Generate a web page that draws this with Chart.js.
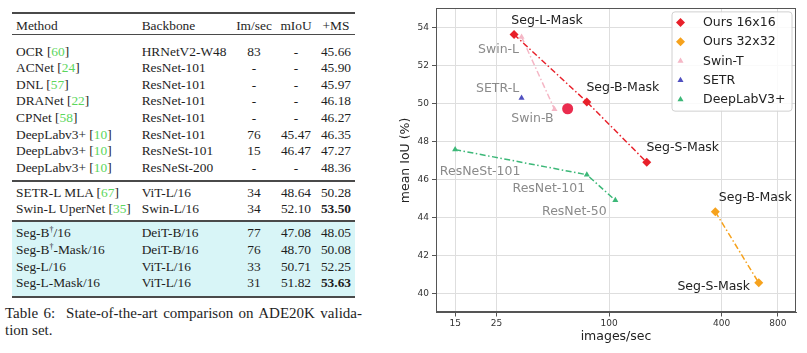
<!DOCTYPE html>
<html>
<head>
<meta charset="utf-8">
<script src="https://cdn.jsdelivr.net/npm/chart.js@4"></script>
<style>
  html, body { margin: 0; padding: 0; background: #fff; }
  body { width: 807px; height: 353px; position: relative; overflow: hidden; }
  .tbl { position: absolute; left: 0; top: 0; width: 365px; height: 353px;
         font-family: "Liberation Serif", "Times New Roman", serif; font-size: 13.4px; color: #1e1e1e; }
  .rule { position: absolute; left: 12px; width: 343px; background: #4a4a4a; }
  .hl { position: absolute; left: 12px; width: 343px; top: 221px; height: 76px; background: #d8f5f7; }
  .row { position: absolute; left: 0; width: 365px; height: 16px; line-height: 16px; white-space: nowrap; }
  .row span { position: absolute; top: 0; }
  .c1 { left: 16px; }
  .c2 { left: 141.7px; }
  .c3 { left: 234px; width: 40px; text-align: center; }
  .c4 { left: 276px; width: 40px; text-align: center; }
  .c5 { left: 316px; width: 40px; text-align: center; }
  .g { color: #5cd65c; }
  b { font-weight: bold; }
  sup { font-size: 8px; line-height: 0; vertical-align: 5px; }
  .cap { position: absolute; left: 5px; width: 357px; font-size: 15px; line-height: 17px; }
  .cap1 { text-align: justify; text-align-last: justify; }
  #chartWrap { position: absolute; left: 370px; top: 0; width: 437px; height: 353px; }
</style>
</head>
<body>
<div class="tbl">
  <div class="hl"></div>
  <div class="rule" style="top:12px;height:2px"></div>
  <div class="row" style="top:18px"><span class="c1">Method</span><span class="c2">Backbone</span><span class="c3">Im/sec</span><span class="c4">mIoU</span><span class="c5">+MS</span></div>
  <div class="rule" style="top:34px;height:1px"></div>
  <div class="row" style="top:43.7px"><span class="c1">OCR [<span class="g" style="position:static">60</span>]</span><span class="c2">HRNetV2-W48</span><span class="c3">83</span><span class="c4">-</span><span class="c5">45.66</span></div>
  <div class="row" style="top:60.3px"><span class="c1">ACNet [<span class="g" style="position:static">24</span>]</span><span class="c2">ResNet-101</span><span class="c3">-</span><span class="c4">-</span><span class="c5">45.90</span></div>
  <div class="row" style="top:77px"><span class="c1">DNL [<span class="g" style="position:static">57</span>]</span><span class="c2">ResNet-101</span><span class="c3">-</span><span class="c4">-</span><span class="c5">45.97</span></div>
  <div class="row" style="top:93.3px"><span class="c1">DRANet [<span class="g" style="position:static">22</span>]</span><span class="c2">ResNet-101</span><span class="c3">-</span><span class="c4">-</span><span class="c5">46.18</span></div>
  <div class="row" style="top:110px"><span class="c1">CPNet [<span class="g" style="position:static">58</span>]</span><span class="c2">ResNet-101</span><span class="c3">-</span><span class="c4">-</span><span class="c5">46.27</span></div>
  <div class="row" style="top:126.5px"><span class="c1">DeepLabv3+ [<span class="g" style="position:static">10</span>]</span><span class="c2">ResNet-101</span><span class="c3">76</span><span class="c4">45.47</span><span class="c5">46.35</span></div>
  <div class="row" style="top:143px"><span class="c1">DeepLabv3+ [<span class="g" style="position:static">10</span>]</span><span class="c2">ResNeSt-101</span><span class="c3">15</span><span class="c4">46.47</span><span class="c5">47.27</span></div>
  <div class="row" style="top:159.7px"><span class="c1">DeepLabv3+ [<span class="g" style="position:static">10</span>]</span><span class="c2">ResNeSt-200</span><span class="c3">-</span><span class="c4">-</span><span class="c5">48.36</span></div>
  <div class="rule" style="top:180px;height:1.5px"></div>
  <div class="row" style="top:184.7px"><span class="c1">SETR-L MLA [<span class="g" style="position:static">67</span>]</span><span class="c2">ViT-L/16</span><span class="c3">34</span><span class="c4">48.64</span><span class="c5">50.28</span></div>
  <div class="row" style="top:201.3px"><span class="c1">Swin-L UperNet [<span class="g" style="position:static">35</span>]</span><span class="c2">Swin-L/16</span><span class="c3">34</span><span class="c4">52.10</span><span class="c5"><b>53.50</b></span></div>
  <div class="rule" style="top:220px;height:1.5px"></div>
  <div class="row" style="top:225.3px"><span class="c1">Seg-B<sup>†</sup>/16</span><span class="c2">DeiT-B/16</span><span class="c3">77</span><span class="c4">47.08</span><span class="c5">48.05</span></div>
  <div class="row" style="top:242px"><span class="c1">Seg-B<sup>†</sup>-Mask/16</span><span class="c2">DeiT-B/16</span><span class="c3">76</span><span class="c4">48.70</span><span class="c5">50.08</span></div>
  <div class="row" style="top:258.7px"><span class="c1">Seg-L/16</span><span class="c2">ViT-L/16</span><span class="c3">33</span><span class="c4">50.71</span><span class="c5">52.25</span></div>
  <div class="row" style="top:275.3px"><span class="c1">Seg-L-Mask/16</span><span class="c2">ViT-L/16</span><span class="c3">31</span><span class="c4">51.82</span><span class="c5"><b>53.63</b></span></div>
  <div class="rule" style="top:296px;height:2px"></div>
  <div class="cap cap1" style="top:305px">Table 6:&nbsp; State-of-the-art comparison on ADE20K valida-</div>
  <div class="cap" style="top:321.5px">tion set.</div>
</div>

<div id="chartWrap"><canvas id="speedChart" width="437" height="353"></canvas></div>

<script>
// Speed vs accuracy on ADE20K

const xTicks = [15, 25, 100, 400, 800];
const yTicks = [40, 42, 44, 46, 48, 50, 52, 54];

const ours16Names = ['Seg-L-Mask', 'Seg-B-Mask', 'Seg-S-Mask'];
const ours16Fps = [31, 76, 159];
const ours16Miou = [53.63, 50.08, 46.9];

const ours32Names = ['Seg-B-Mask', 'Seg-S-Mask'];
const ours32Fps = [370, 632];
const ours32Miou = [44.3, 40.56];

const swinNames = ['Swin-L', 'Swin-B'];
const swinFps = [34, 51];
const swinMiou = [53.5, 49.7];

const setrNames = ['SETR-L'];
const setrFps = [34];
const setrMiou = [50.28];

const deeplabNames = ['ResNeSt-101', 'ResNet-101', 'ResNet-50'];
const deeplabFps = [15, 76, 108];
const deeplabMiou = [47.57, 46.25, 44.9];

const markFps = [60];
const markMiou = [49.72];

function toPoints(xs, ys) {
    return xs.map((x, i) => ({ x: x, y: ys[i] }));
}

const dashDot = [6, 2.5, 1.5, 2.5];

// label placement relative to each point (pixels)
const ours16Offsets = [[33, -14], [36, -14], [36, -15]];
const ours32Offsets = [[40, -14], [-45, 3.5]];
const swinOffsets = [[-23, 13], [-22, 10]];
const setrOffsets = [[-24, -9]];
const deeplabOffsets = [[25, 22], [-38, 14], [-41, 11]];

const datasets = [
    {
        label: 'Ours 16x16', data: toPoints(ours16Fps, ours16Miou), names: ours16Names,
        labelOffsets: ours16Offsets, labelColor: '#222', inLegend: true,
        showLine: true, borderColor: '#e8202a', backgroundColor: '#e8202a',
        borderWidth: 1.5, borderDash: dashDot, pointStyle: 'rectRot', pointRadius: 4.5, pointBorderWidth: 0
    },
    {
        label: 'Ours 32x32', data: toPoints(ours32Fps, ours32Miou), names: ours32Names,
        labelOffsets: ours32Offsets, labelColor: '#222', inLegend: true,
        showLine: true, borderColor: '#f6a21d', backgroundColor: '#f6a21d',
        borderWidth: 1.5, borderDash: dashDot, pointStyle: 'rectRot', pointRadius: 4.5, pointBorderWidth: 0
    },
    {
        label: 'Swin-T', data: toPoints(swinFps, swinMiou), names: swinNames,
        labelOffsets: swinOffsets, labelColor: '#8a8a8a', inLegend: true,
        showLine: true, borderColor: '#f5b7c6', backgroundColor: '#f5b7c6',
        borderWidth: 1.5, borderDash: dashDot, pointStyle: 'triangle', pointRadius: 3.5, pointBorderWidth: 0
    },
    {
        label: 'SETR', data: toPoints(setrFps, setrMiou), names: setrNames,
        labelOffsets: setrOffsets, labelColor: '#8a8a8a', inLegend: true,
        showLine: false, borderColor: '#5050c0', backgroundColor: '#5050c0',
        pointStyle: 'triangle', pointRadius: 3.5, pointBorderWidth: 0
    },
    {
        label: 'DeepLabV3+', data: toPoints(deeplabFps, deeplabMiou), names: deeplabNames,
        labelOffsets: deeplabOffsets, labelColor: '#8a8a8a', inLegend: true,
        showLine: true, borderColor: '#3cb878', backgroundColor: '#3cb878',
        borderWidth: 1.5, borderDash: dashDot, pointStyle: 'triangle', pointRadius: 3.5, pointBorderWidth: 0
    },
    {
        label: 'mark', data: toPoints(markFps, markMiou), inLegend: false,
        showLine: false, borderColor: '#ea2c4e', backgroundColor: '#ea2c4e',
        pointStyle: 'circle', pointRadius: 5.5, pointBorderWidth: 0
    }
];

// frame, point labels and legend box
const annotatePlugin = {
    id: 'annotate',
    afterDatasetsDraw(chart) {
        const ctx = chart.ctx;
        const area = chart.chartArea;
        ctx.save();

        ctx.strokeStyle = '#555';
        ctx.lineWidth = 1;
        ctx.strokeRect(Math.round(area.left) + 0.5, Math.round(area.top) + 0.5,
            Math.round(area.right - area.left) - 1, Math.round(area.bottom - area.top) - 1);

        ctx.font = '12.5px "DejaVu Sans"';
        ctx.textAlign = 'center';
        ctx.textBaseline = 'middle';
        chart.data.datasets.forEach((ds, i) => {
            if (!ds.names) return;
            const meta = chart.getDatasetMeta(i);
            meta.data.forEach((pt, j) => {
                const off = ds.labelOffsets[j];
                ctx.fillStyle = ds.labelColor;
                ctx.fillText(ds.names[j], pt.x + off[0], pt.y + off[1]);
            });
        });

        // legend
        const items = chart.data.datasets.filter(ds => ds.inLegend);
        const boxW = 120, rowH = 19.25;
        const boxX = area.right - 4.5 - boxW;
        const boxY = area.top + 3;
        const boxH = items.length * rowH + 3;
        ctx.fillStyle = 'rgba(255,255,255,0.85)';
        ctx.strokeStyle = '#d0d0d0';
        ctx.beginPath();
        ctx.roundRect(boxX + 0.5, boxY + 0.5, boxW, boxH, 3);
        ctx.fill();
        ctx.stroke();
        ctx.textAlign = 'left';
        items.forEach((ds, k) => {
            const y = boxY + 11 + k * rowH;
            ctx.fillStyle = ds.backgroundColor;
            ctx.strokeStyle = ds.borderColor;
            Chart.helpers.drawPoint(ctx, {
                pointStyle: ds.pointStyle, radius: ds.pointRadius, rotation: 0, borderWidth: 0
            }, boxX + 9, y);
            ctx.fillStyle = '#222';
            ctx.fillText(ds.label, boxX + 31.5, y + 0.5);
        });
        ctx.restore();
    }
};

Chart.defaults.font.family = 'DejaVu Sans';

const speedChart = new Chart(document.getElementById('speedChart').getContext('2d'), {
    type: 'scatter',
    data: { datasets: datasets },
    options: {
        responsive: false,
        devicePixelRatio: 1,
        animation: false,
        layout: { padding: { left: 0, top: 5, right: 11, bottom: 0 } },
        plugins: {
            legend: { display: false },
            tooltip: { enabled: false }
        },
        scales: {
            x: {
                type: 'logarithmic',
                min: 11.85,
                max: 1000,
                afterBuildTicks: scale => { scale.ticks = xTicks.map(v => ({ value: v })); },
                afterFit: scale => { scale.height = 40.5; },
                ticks: {
                    autoSkip: false, maxRotation: 0, padding: 2,
                    color: '#333', font: { size: 9 },
                    callback: v => String(v)
                },
                grid: { color: '#dedede', tickColor: '#555', tickLength: 4 },
                border: { color: '#555' },
                title: {
                    display: true, text: 'images/sec', color: '#222',
                    font: { size: 12.5 }, padding: { top: 0, bottom: 9 }
                }
            },
            y: {
                type: 'linear',
                min: 39,
                max: 55,
                afterBuildTicks: scale => { scale.ticks = yTicks.map(v => ({ value: v })); },
                afterFit: scale => { scale.width = 66; },
                ticks: {
                    autoSkip: false, padding: 3,
                    color: '#333', font: { size: 9 },
                    callback: v => String(v)
                },
                grid: { color: '#dedede', tickColor: '#555', tickLength: 4 },
                border: { color: '#555' },
                title: {
                    display: true, text: 'mean IoU (%)', color: '#222',
                    font: { size: 12.5 }, padding: { top: 28.5, bottom: 0 }
                }
            }
        }
    },
    plugins: [annotatePlugin]
});
</script>
</body>
</html>
